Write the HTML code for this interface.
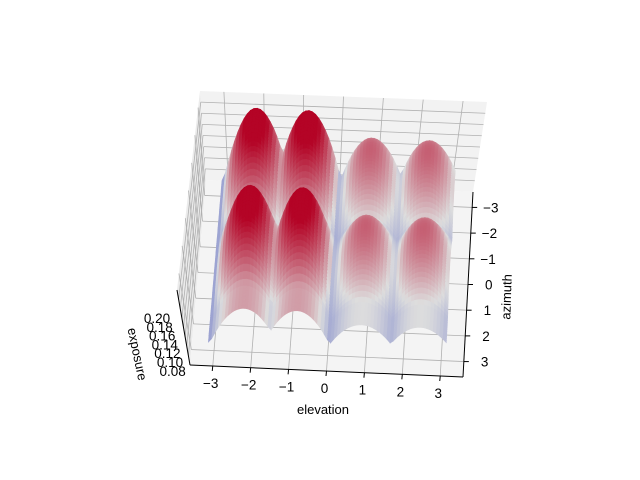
<!DOCTYPE html>
<html><head><meta charset="utf-8"><style>
html,body{margin:0;padding:0;background:#fff;}
svg{display:block;font-family:"Liberation Sans",sans-serif;}
</style></head><body>
<svg id="c" width="640" height="480" viewBox="0 0 640 480">
<g id="panes"></g>
<g id="surf"></g>
<g id="axes"></g>
<text x="323" y="414" font-size="13" text-anchor="middle">elevation</text>
<text x="0" y="0" font-size="13" text-anchor="middle" transform="translate(511,297) rotate(-88)">azimuth</text>
<text x="0" y="0" font-size="13" text-anchor="middle" transform="translate(133,355) rotate(78)">exposure</text>
</svg>
<script>
const xTicks=[-3,-2,-1,0,1,2,3];
const yTicks=[-3,-2,-1,0,1,2,3];
const zTicks=["0.20","0.18","0.16","0.14","0.12","0.10","0.08"];
const colPeaks=[-2.2,-0.8,0.9,2.45];
const colAmps=[1.0,1.0,0.68,0.68];
const rowPeaks=[-2.3,0.7];
const NS="http://www.w3.org/2000/svg";
const BL=[206,180],BR=[473,192],FR=[463,377],FL=[190,365];
const TL=[200,91],TR=[487,102];
function proj(x,y){const u=(x+3.6)/7.2,v=(y+3.6)/7.2;
 const bx=BL[0]+(BR[0]-BL[0])*u,by=BL[1]+(BR[1]-BL[1])*u;
 const fx=FL[0]+(FR[0]-FL[0])*u,fy=FL[1]+(FR[1]-FL[1])*u;
 return [bx+(fx-bx)*v,by+(fy-by)*v];}
function el(t,a,p){const e=document.createElementNS(NS,t);for(const k in a)e.setAttribute(k,a[k]);p.appendChild(e);return e;}
const panes=document.getElementById('panes');
let e;
e=el('polygon',{points:[TL,TR,BR,BL].join(' '),fill:'#f2f2f2'},panes);


e=el('polygon',{points:[TL,BL,FL,[177,290]].join(' '),fill:'#ebebeb'},panes);


e=el('polygon',{points:[BL,BR,FR,FL].join(' '),fill:'#f4f4f4'},panes);


const gs={stroke:'#b0b0b0','stroke-width':0.8,fill:'none'};
xTicks.forEach(t=>{const a=proj(t,-3.6),b=proj(t,3.6);el('line',Object.assign({x1:a[0],y1:a[1],x2:b[0],y2:b[1]},gs),panes);
 const u=(t+3.6)/7.2;el('line',Object.assign({x1:a[0],y1:a[1],x2:TL[0]+(TR[0]-TL[0])*u,y2:TL[1]+(TR[1]-TL[1])*u},gs),panes);});
yTicks.forEach(t=>{const a=proj(-3.6,t),b=proj(3.6,t);el('line',Object.assign({x1:a[0],y1:a[1],x2:b[0],y2:b[1]},gs),panes);
 const v=(t+3.6)/7.2;el('line',Object.assign({x1:a[0],y1:a[1],x2:TL[0]+(177-TL[0])*v,y2:TL[1]+(290-TL[1])*v},gs),panes);});
for(let i=1;i<8;i++){const f=i/8;
 el('line',Object.assign({x1:BL[0]+(TL[0]-BL[0])*f,y1:BL[1]+(TL[1]-BL[1])*f,x2:BR[0]+(TR[0]-BR[0])*f,y2:BR[1]+(TR[1]-BR[1])*f},gs),panes);
 el('line',Object.assign({x1:BL[0]+(TL[0]-BL[0])*f,y1:BL[1]+(TL[1]-BL[1])*f,x2:FL[0]+(177-FL[0])*f,y2:FL[1]+(290-FL[1])*f},gs),panes);}
function colf(x){let best=0;colPeaks.forEach((p,i)=>{const d=Math.abs(x-p);const w=Math.max(0,1-Math.pow(d/0.9,2));best=Math.max(best,w*colAmps[i]);});return best;}
function rowf(y){let best=0;rowPeaks.forEach(p=>{const d=Math.abs(y-p);best=Math.max(best,Math.max(0,1-Math.pow(d/1.55,2)));});return best;}
function zf(x,y){return colf(x)*(0.4+0.6*rowf(y));}
function cw(t){t=Math.max(0,Math.min(1,t));const A=[59,76,192],M=[221,221,221],B=[180,4,38];let c;
 if(t<0.5){const s=t/0.5;c=A.map((a,i)=>a+(M[i]-a)*s);}else{const s=(t-0.5)/0.5;c=M.map((a,i)=>a+(B[i]-a)*s);}
 return 'rgb('+c.map(Math.round).join(',')+')';}
const surf=document.getElementById('surf');
const N=72,R=3.14159;
function P(x,y){const p=proj(x,y);return [p[0],p[1]-12-88*zf(x,y)];}
for(let j=0;j<N;j++){for(let i=0;i<N;i++){
 const x0=-R+2*R*i/N,x1=-R+2*R*(i+1)/N,y0=-R+2*R*j/N,y1=-R+2*R*(j+1)/N;
 const xm=(x0+x1)/2,ym=(y0+y1)/2;
 const z=zf(xm,ym);
 const pts=[P(x0,y0),P(x1,y0),P(x1,y1),P(x0,y1)].map(p=>p[0].toFixed(1)+','+p[1].toFixed(1)).join(' ');
 const c=cw(0.3+0.72*z+(xm<0?0.06:0)*Math.min(1,z*3));
 const q=el('polygon',{points:pts,fill:c,stroke:c,'stroke-width':0.6},surf);
 
 
}}
const ax=document.getElementById('axes');
el('line',{x1:FL[0],y1:FL[1],x2:FR[0],y2:FR[1],stroke:'#000','stroke-width':1},ax);
el('line',{x1:BR[0],y1:BR[1],x2:FR[0],y2:FR[1],stroke:'#000','stroke-width':1},ax);
el('line',{x1:177,y1:290,x2:FL[0],y2:FL[1],stroke:'#000','stroke-width':1},ax);
xTicks.forEach(t=>{const p=proj(t,3.6);el('line',{x1:p[0],y1:p[1],x2:p[0]-0.5,y2:p[1]+5,stroke:'#000'},ax);
 const tx=el('text',{x:p[0]-2,y:p[1]+22,'font-size':13.5,'text-anchor':'middle'},ax);tx.textContent=t<0?'\u2212'+(-t):t;
 
 });
yTicks.forEach(t=>{const p=proj(3.6,t);el('line',{x1:p[0],y1:p[1],x2:p[0]+5,y2:p[1],stroke:'#000'},ax);
 const tx=el('text',{x:p[0]+(t<0?11:17),y:p[1]+5,'font-size':13.5},ax);tx.textContent=t<0?'\u2212'+(-t):t;
 
 });
zTicks.forEach((t,i)=>{const tx=el('text',{x:157+i*2.6,y:323+i*8.8,'font-size':13.5,'text-anchor':'middle'},ax);tx.textContent=t;
 
 });
</script>
</body></html>
